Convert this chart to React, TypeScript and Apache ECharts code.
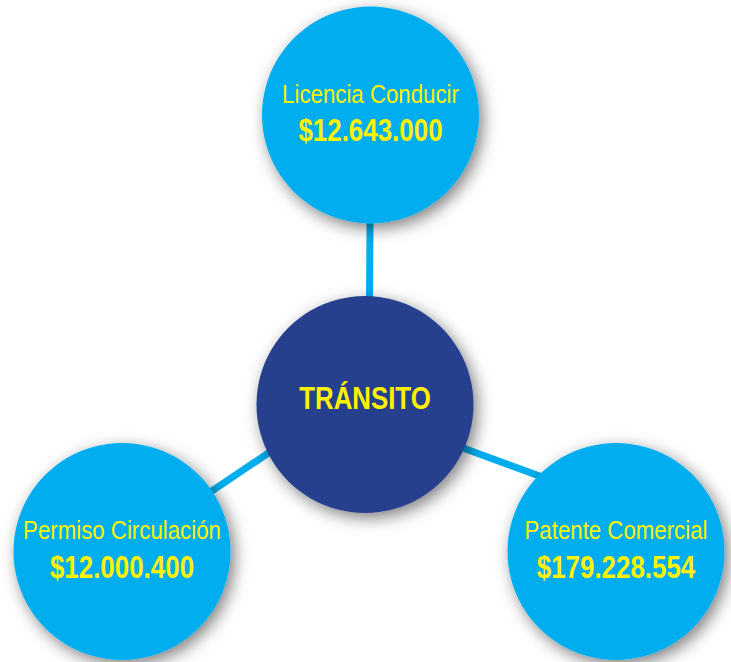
import React, { useEffect, useRef } from "react";
import * as echarts from "echarts";

// ---- data ----
const NAMES = ["TRÁNSITO", "Licencia Conducir", "Permiso Circulación", "Patente Comercial"];
const AMOUNTS = ["", "$12.643.000", "$12.000.400", "$179.228.554"];
const LINKS: [number, number][] = [
  [0, 1],
  [0, 2],
  [0, 3],
];

// ---- layout (pixels) ----
const W = 731;
const H = 662;
const RADIUS = 108.5;
const NODE_POS: [number, number][] = [
  [365, 404.5],
  [370.5, 115],
  [122, 551.5],
  [616, 551.5],
];
// connector anchor points (source side, target side) for each link
const LINK_ENDS: [number, number][][] = [
  [
    [369, 380],
    [370.5, 150],
  ],
  [
    [365, 388],
    [122, 551.5],
  ],
  [
    [365, 412],
    [616, 504],
  ],
];

const CYAN = "#00AEEF";
const NAVY = "#253F8E";
const YELLOW = "#FFF200";
const FONT = "'Liberation Sans', Arial, sans-serif";

export default function App() {
  const ref = useRef<HTMLDivElement>(null);

  useEffect(() => {
    if (!ref.current) return;
    const chart = echarts.init(ref.current, undefined, { renderer: "svg" });

    const renderNode = (params: any, api: any) => {
      const i = params.dataIndex;
      const [cx, cy] = api.coord([api.value(0), api.value(1)]);
      const children: any[] = [
        {
          type: "circle",
          shape: { cx, cy, r: RADIUS },
          style: {
            fill: i === 0 ? NAVY : CYAN,
            shadowBlur: 16,
            shadowColor: "rgba(0,0,0,0.5)",
            shadowOffsetX: 4,
            shadowOffsetY: 5,
          },
        },
      ];
      if (i === 0) {
        children.push({
          type: "text",
          x: cx,
          y: cy - 6,
          scaleX: 0.82,
          style: {
            text: NAMES[i],
            fill: YELLOW,
            fontFamily: FONT,
            fontSize: 31.5,
            fontWeight: "bold",
            align: "center",
            verticalAlign: "middle",
          },
        });
      } else {
        children.push(
          {
            type: "text",
            x: cx,
            y: cy - 20.5,
            scaleX: 0.89,
            style: {
              text: NAMES[i],
              fill: YELLOW,
              fontFamily: FONT,
              fontSize: 25,
              align: "center",
              verticalAlign: "middle",
            },
          },
          {
            type: "text",
            x: cx,
            y: cy + 15.5,
            scaleX: 0.85,
            style: {
              text: AMOUNTS[i],
              fill: YELLOW,
              fontFamily: FONT,
              fontSize: 30.5,
              fontWeight: "bold",
              align: "center",
              verticalAlign: "middle",
            },
          }
        );
      }
      return { type: "group", children };
    };

    const option = {
      animation: false,
      backgroundColor: "#ffffff",
      grid: { left: 0, right: 0, top: 0, bottom: 0 },
      xAxis: { type: "value", min: 0, max: W, show: false },
      yAxis: { type: "value", min: 0, max: H, inverse: true, show: false },
      series: [
        {
          type: "lines",
          coordinateSystem: "cartesian2d",
          z: 1,
          silent: true,
          lineStyle: { color: CYAN, width: 7, opacity: 1, type: "solid" },
          data: LINKS.map((_, i) => ({ coords: LINK_ENDS[i] })),
        },
        {
          type: "custom",
          coordinateSystem: "cartesian2d",
          z: 2,
          silent: true,
          encode: { x: 0, y: 1 },
          renderItem: renderNode,
          data: NAMES.map((n, i) => ({ name: n, value: NODE_POS[i] })),
        },
      ],
    };
    chart.setOption(option as any);
    return () => chart.dispose();
  }, []);

  return (
    <div
      ref={ref}
      style={{ position: "fixed", left: 0, top: 0, width: W, height: H, background: "#fff" }}
    />
  );
}
